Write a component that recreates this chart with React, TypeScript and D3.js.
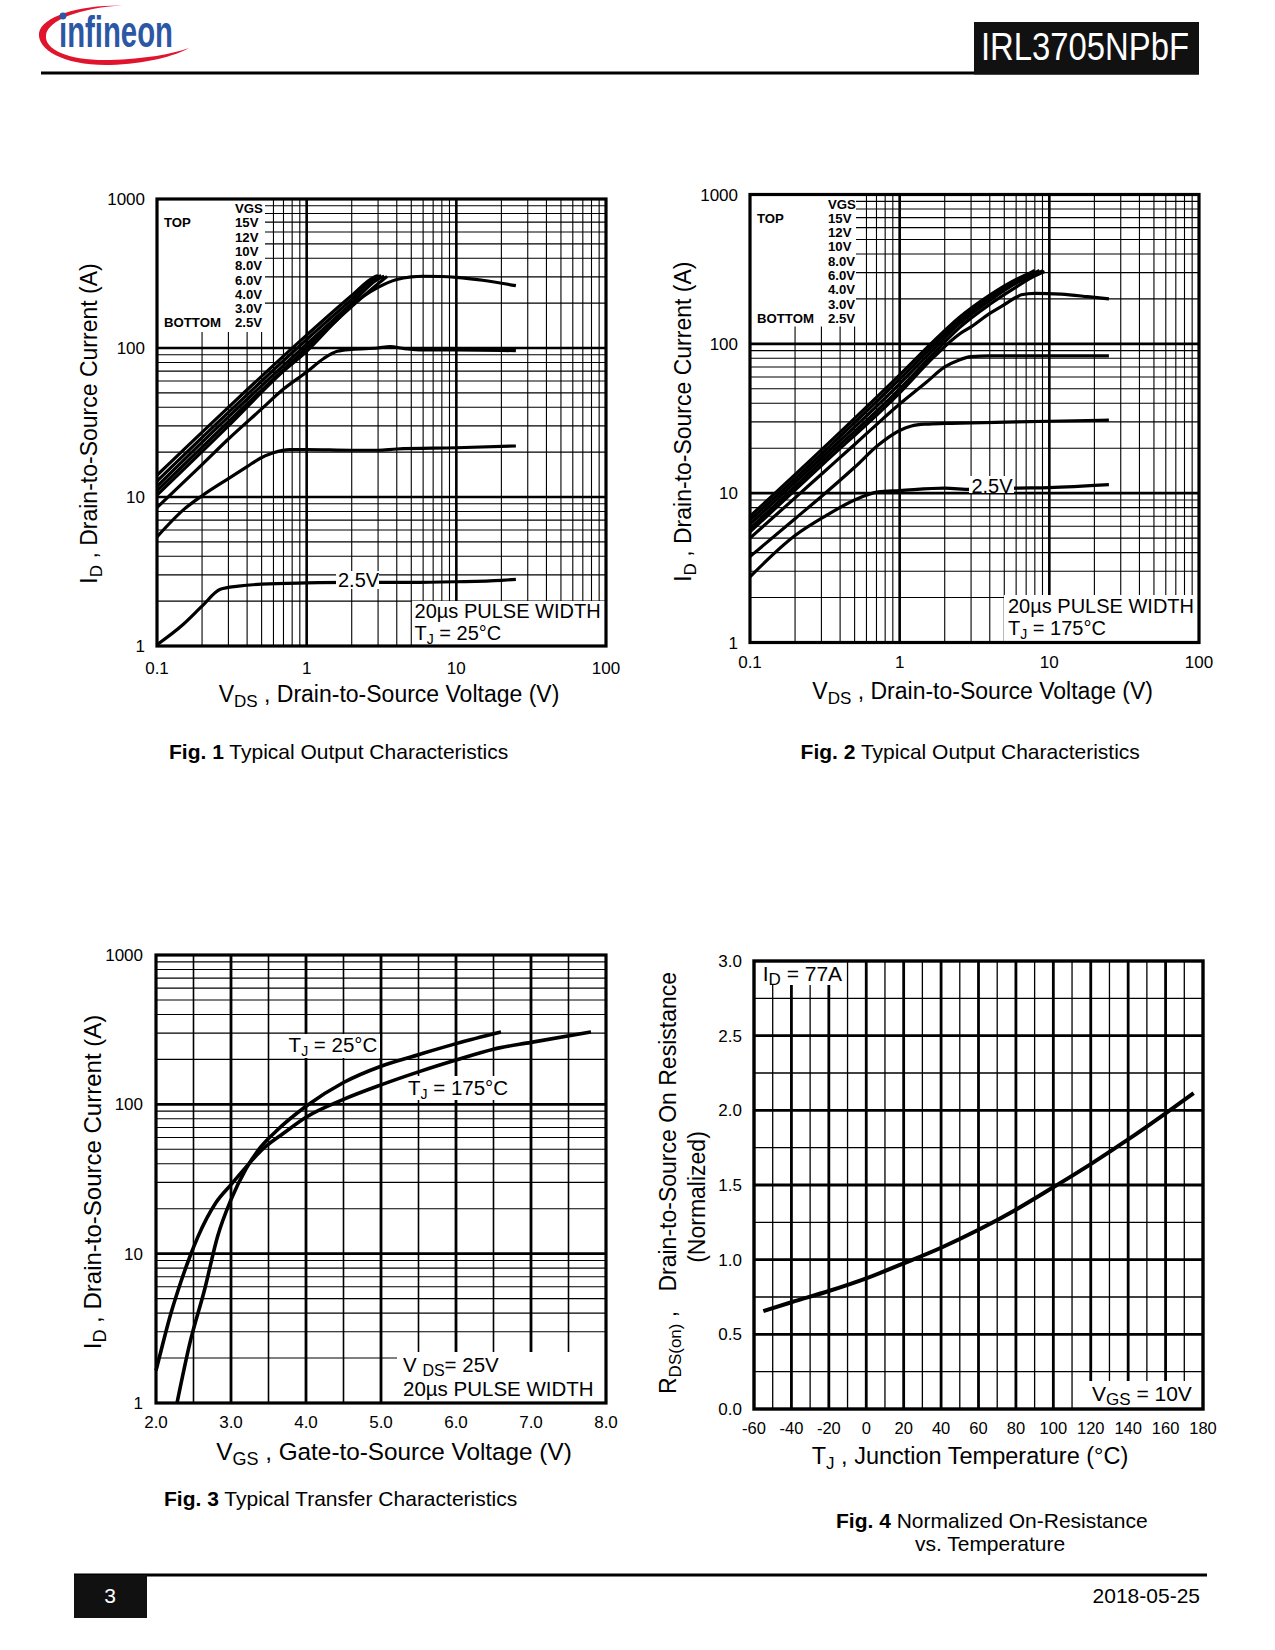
import React from "react";
import * as d3 from "d3";

type Pt = [number, number];
const FONT = "'Liberation Sans', Arial, Helvetica, sans-serif";

// ---------- Fig. 1 : Typical Output Characteristics, TJ = 25 °C  (VDS [V], ID [A]) ----------
const fig1Vgs15V: Pt[] = [[0.1, 14], [0.3, 40], [1, 122], [2, 225], [2.8, 298], [3.0, 306]];
const fig1Vgs12V: Pt[] = [[0.1, 12.8], [0.3, 37], [1, 114], [2, 212], [2.9, 296], [3.15, 305]];
const fig1Vgs10V: Pt[] = [[0.1, 11.8], [0.3, 34.5], [1, 106], [2, 200], [3, 290], [3.3, 303]];
const fig1Vgs8V: Pt[] = [[0.1, 11], [0.3, 32], [1, 100], [2, 190], [3, 270], [3.45, 302]];
const fig1Vgs6V: Pt[] = [[0.1, 10.3], [0.3, 30], [0.7, 70], [1, 95], [1.5, 145], [1.95, 189], [3, 255], [4, 288], [5, 300], [6, 303], [8, 302], [10, 298], [15, 285], [25, 262]];
const fig1Vgs4V: Pt[] = [[0.1, 8.5], [0.2, 16.5], [0.3, 24.5], [0.5, 39], [0.7, 53], [1, 69], [1.3, 85], [1.6, 95], [2, 98], [3, 100], [3.6, 102], [4.5, 99], [6, 97], [10, 97], [25, 96]];
const fig1Vgs3V: Pt[] = [[0.1, 5.4], [0.15, 8.2], [0.2, 10.2], [0.3, 13.3], [0.4, 16], [0.49, 18.2], [0.6, 19.8], [0.77, 20.8], [1, 20.8], [2, 20.6], [3, 20.6], [4, 21], [10, 21.4], [25, 22]];
const fig1Vgs2V5: Pt[] = [[0.1, 1.02], [0.15, 1.4], [0.2, 1.85], [0.265, 2.4], [0.35, 2.52], [0.5, 2.6], [1, 2.65], [2, 2.67], [5, 2.67], [10, 2.7], [20, 2.76], [25, 2.8]];
const fig1Series = [fig1Vgs15V, fig1Vgs12V, fig1Vgs10V, fig1Vgs8V, fig1Vgs6V, fig1Vgs4V, fig1Vgs3V, fig1Vgs2V5];

// ---------- Fig. 2 : Typical Output Characteristics, TJ = 175 °C ----------
const fig2Vgs15V: Pt[] = [[0.1, 7.0], [0.3, 19.5], [1, 62], [1.7, 105], [2.5, 150], [4, 212], [6, 270], [7.5, 300], [8, 310]];
const fig2Vgs12V: Pt[] = [[0.1, 6.6], [0.3, 18.3], [1, 58], [1.7, 99], [2.5, 143], [4, 203], [6, 262], [8, 300], [8.6, 310]];
const fig2Vgs10V: Pt[] = [[0.1, 6.2], [0.3, 17.2], [1, 54], [1.7, 93], [2.5, 136], [4, 195], [6, 255], [8.5, 300], [9.0, 308]];
const fig2Vgs8V: Pt[] = [[0.1, 5.8], [0.3, 16.2], [1, 50], [1.7, 87], [2.5, 128], [4, 184], [6, 240], [8, 285], [9.3, 305]];
const fig2Vgs6V: Pt[] = [[0.1, 5.5], [0.3, 15.3], [1, 47], [1.7, 82], [2.5, 116], [3, 130], [4, 160], [5, 183], [6, 205], [6.5, 213], [8, 218], [12, 215], [18, 207], [25, 200]];
const fig2Vgs4V: Pt[] = [[0.1, 5.0], [0.2, 9.3], [0.3, 13.4], [0.5, 21.2], [0.7, 28.8], [1, 39.5], [1.5, 55], [2, 70], [2.5, 78], [3, 82], [4, 83], [10, 83], [25, 83]];
const fig2Vgs3V: Pt[] = [[0.1, 3.76], [0.2, 6.75], [0.3, 9.5], [0.5, 14.9], [0.72, 21], [1, 26.3], [1.2, 28.2], [1.5, 29], [2, 29.3], [3, 29.5], [6, 30], [10, 30.3], [25, 30.8]];
const fig2Vgs2V5: Pt[] = [[0.1, 2.75], [0.2, 5.2], [0.317, 7], [0.5, 9], [0.72, 10.2], [1, 10.4], [2, 10.8], [3, 10.6], [6, 10.8], [10, 10.9], [25, 11.4]];
const fig2Series = [fig2Vgs15V, fig2Vgs12V, fig2Vgs10V, fig2Vgs8V, fig2Vgs6V, fig2Vgs4V, fig2Vgs3V, fig2Vgs2V5];

const vgsLegend = ["15V", "12V", "10V", "8.0V", "6.0V", "4.0V", "3.0V", "2.5V"];

// ---------- Fig. 3 : Typical Transfer Characteristics (VGS [V], ID [A]) ----------
const fig3Vgs25C = [2.28, 2.45, 2.65, 2.82, 3.0, 3.2, 3.4, 3.6, 4.0, 4.5, 5.0, 5.5, 6.0, 6.6];
const fig3Id25C = [1, 2.5, 5.8, 13, 23, 37, 52, 66, 97, 140, 180, 215, 255, 305];
const fig3Vgs175C = [2.0, 2.1, 2.2, 2.3, 2.45, 2.56, 2.8, 3.0, 3.2, 3.4, 3.7, 4.0, 4.5, 5.0, 5.5, 6.0, 6.5, 7.0, 7.8];
const fig3Id175C = [1.65, 2.6, 4, 5.8, 9.5, 13, 22, 29, 38, 49, 64, 82, 108, 135, 165, 198, 234, 260, 305];

// ---------- Fig. 4 : Normalized On-Resistance vs. Temperature ----------
const fig4Temp = [-55, -40, -20, 0, 20, 40, 60, 80, 100, 120, 140, 160, 175];
const fig4Rds = [0.655, 0.715, 0.79, 0.875, 0.975, 1.08, 1.2, 1.335, 1.485, 1.64, 1.805, 1.98, 2.115];

// ---------- tick labels ----------
const vdsTicks = [0.1, 1, 10, 100];
const vdsTickLabels = ["0.1", "1", "10", "100"];
const idTicks = [1, 10, 100, 1000];
const idTickLabels = ["1", "10", "100", "1000"];
const vgsTicks = [2, 3, 4, 5, 6, 7, 8];
const vgsTickLabels = ["2.0", "3.0", "4.0", "5.0", "6.0", "7.0", "8.0"];
const tempTicks = [-60, -40, -20, 0, 20, 40, 60, 80, 100, 120, 140, 160, 180];
const rdsTicks = [0, 0.5, 1, 1.5, 2, 2.5, 3];
const rdsTickLabels = ["0.0", "0.5", "1.0", "1.5", "2.0", "2.5", "3.0"];

type Box = { x: number; y: number; w: number; h: number };

const TICK_FS = 17;
const TITLE_FS = 23;
const CAP_FS = 21;

const logGrid = (lo: number, hi: number) => {
  const out: { v: number; major: boolean }[] = [];
  for (let e = Math.round(Math.log10(lo)); e < Math.round(Math.log10(hi)); e++) {
    const d = Math.pow(10, e);
    for (let k = 1; k < 10; k++) {
      const v = d * k;
      if (v > lo * 1.001 && v < hi * 0.999) out.push({ v, major: k === 1 });
    }
  }
  return out;
};

const Mask = ({ b }: { b: Box }) => <rect x={b.x} y={b.y} width={b.w} height={b.h} fill="#fff" />;

type OutProps = {
  g: Box;
  series: Pt[][];
  fig: string;
  temp: string;
  legendMask: Box;
  pulseMask: Box;
  pulseX: number;
  pulseY: number;
  lbl: { x: number; y: number; bg: Box };
  yLblX: number;
  xLblY: number;
  xTitle: { x: number; y: number };
  yTitle: { x: number; y: number };
  caption: { x: number; y: number };
};

const OutputPanel = (p: OutProps) => {
  const { g } = p;
  const x = d3.scaleLog().domain([0.1, 100]).range([g.x, g.x + g.w]);
  const y = d3.scaleLog().domain([1, 1000]).range([g.y + g.h, g.y]);
  const line = d3.line<Pt>().x((d) => x(d[0])).y((d) => y(d[1])).curve(d3.curveMonotoneX);
  const xg = logGrid(0.1, 100);
  const yg = logGrid(1, 1000);
  return (
    <g>
      {xg.map((t, i) => (
        <line key={"vx" + i} x1={x(t.v)} x2={x(t.v)} y1={g.y} y2={g.y + g.h} stroke="#000" strokeWidth={t.major ? 2.6 : 1.1} />
      ))}
      {yg.map((t, i) => (
        <line key={"hy" + i} y1={y(t.v)} y2={y(t.v)} x1={g.x} x2={g.x + g.w} stroke="#000" strokeWidth={t.major ? 2.6 : 1.1} />
      ))}
      <Mask b={p.legendMask} />
      <Mask b={p.pulseMask} />
      {p.series.map((s, i) => (
        <path key={"c" + i} d={line(s) || ""} fill="none" stroke="#000" strokeWidth={3.2} strokeLinejoin="round" />
      ))}
      <Mask b={p.lbl.bg} />
      <rect x={g.x} y={g.y} width={g.w} height={g.h} fill="none" stroke="#000" strokeWidth={3.2} />
      {/* legend */}
      <g fontWeight="bold" fontSize={13.2}>
        <text x={g.x + 78} y={g.y + 14}>VGS</text>
        <text x={g.x + 7} y={g.y + 14 + 14.3}>TOP</text>
        <text x={g.x + 7} y={g.y + 14 + 14.3 * 8}>BOTTOM</text>
        {vgsLegend.map((l, i) => (
          <text key={l} x={g.x + 78} y={g.y + 14 + 14.3 * (i + 1)}>{l}</text>
        ))}
      </g>
      <text x={p.lbl.x} y={p.lbl.y} fontSize={20}>2.5V</text>
      <text x={p.pulseX} y={p.pulseY} fontSize={20}>20µs PULSE WIDTH</text>
      <text x={p.pulseX} y={p.pulseY + 22} fontSize={20}>
        T<tspan fontSize={14} dy={4}>J</tspan><tspan dy={-4}> = {p.temp}</tspan>
      </text>
      {/* tick labels */}
      {idTicks.map((t, i) => (
        <text key={"yl" + i} x={p.yLblX} y={y(t) + 6} fontSize={TICK_FS} textAnchor="end">{idTickLabels[i]}</text>
      ))}
      {vdsTicks.map((t, i) => (
        <text key={"xl" + i} x={x(t)} y={p.xLblY} fontSize={TICK_FS} textAnchor="middle">{vdsTickLabels[i]}</text>
      ))}
      <text x={p.xTitle.x} y={p.xTitle.y} fontSize={TITLE_FS} textAnchor="middle">
        V<tspan fontSize={17} dy={5}>DS</tspan><tspan dy={-5}> , Drain-to-Source Voltage (V)</tspan>
      </text>
      <text transform={`translate(${p.yTitle.x},${p.yTitle.y}) rotate(-90)`} fontSize={TITLE_FS} textAnchor="middle">
        I<tspan fontSize={17} dy={5}>D</tspan><tspan dy={-5}> , Drain-to-Source Current (A)</tspan>
      </text>
      <text x={p.caption.x} y={p.caption.y} fontSize={CAP_FS}>
        <tspan fontWeight="bold">{p.fig}</tspan> Typical Output Characteristics
      </text>
    </g>
  );
};

const TransferPanel = ({ g }: { g: Box }) => {
  const x = d3.scaleLinear().domain([2, 8]).range([g.x, g.x + g.w]);
  const y = d3.scaleLog().domain([1, 1000]).range([g.y + g.h, g.y]);
  const line = d3.line<[number, number]>().x((d) => x(d[0])).y((d) => y(d[1])).curve(d3.curveMonotoneX);
  const s25: [number, number][] = fig3Vgs25C.map((v, i) => [v, fig3Id25C[i]]);
  const s175: [number, number][] = fig3Vgs175C.map((v, i) => [v, fig3Id175C[i]]);
  const yg = logGrid(1, 1000);
  const xg = d3.range(2.5, 8, 0.5);
  return (
    <g>
      {xg.map((v, i) => (
        <line key={"vx" + i} x1={x(v)} x2={x(v)} y1={g.y} y2={g.y + g.h} stroke="#000" strokeWidth={Number.isInteger(v) ? 2.8 : 1.6} />
      ))}
      {yg.map((t, i) => (
        <line key={"hy" + i} y1={y(t.v)} y2={y(t.v)} x1={g.x} x2={g.x + g.w} stroke="#000" strokeWidth={t.major ? 2.8 : 1.1} />
      ))}
      <Mask b={{ x: 397, y: 1352, w: 208, h: 50 }} />
      <Mask b={{ x: 286, y: 1034, w: 94, h: 24 }} />
      <Mask b={{ x: 405, y: 1076, w: 103, h: 24 }} />
      <path d={line(s25) || ""} fill="none" stroke="#000" strokeWidth={3.6} strokeLinejoin="round" />
      <path d={line(s175) || ""} fill="none" stroke="#000" strokeWidth={3.6} strokeLinejoin="round" />
      <rect x={g.x} y={g.y} width={g.w} height={g.h} fill="none" stroke="#000" strokeWidth={3.2} />
      <text x={288.6} y={1052} fontSize={20.5}>
        T<tspan fontSize={14} dy={4}>J</tspan><tspan dy={-4}> = 25°C</tspan>
      </text>
      <text x={408} y={1095} fontSize={20.5}>
        T<tspan fontSize={14} dy={4}>J</tspan><tspan dy={-4}> = 175°C</tspan>
      </text>
      <text x={403} y={1372} fontSize={20.5}>
        V <tspan fontSize={16} dy={4}>DS</tspan><tspan dy={-4}>= 25V</tspan>
      </text>
      <text x={403} y={1395.5} fontSize={20.5}>20µs PULSE WIDTH</text>
      {idTicks.map((t, i) => (
        <text key={"yl" + i} x={g.x - 13} y={y(t) + 6} fontSize={TICK_FS} textAnchor="end">{idTickLabels[i]}</text>
      ))}
      {vgsTicks.map((t, i) => (
        <text key={"xl" + i} x={x(t)} y={1428} fontSize={TICK_FS} textAnchor="middle">{vgsTickLabels[i]}</text>
      ))}
      <text x={394} y={1460} fontSize={24.3} textAnchor="middle">
        V<tspan fontSize={18} dy={5}>GS</tspan><tspan dy={-5}> , Gate-to-Source Voltage (V)</tspan>
      </text>
      <text transform={`translate(101,1182) rotate(-90)`} fontSize={24} textAnchor="middle">
        I<tspan fontSize={18} dy={5}>D</tspan><tspan dy={-5}> , Drain-to-Source Current (A)</tspan>
      </text>
      <text x={164} y={1505.5} fontSize={CAP_FS}>
        <tspan fontWeight="bold">Fig. 3</tspan> Typical Transfer Characteristics
      </text>
    </g>
  );
};

const RdsPanel = ({ g }: { g: Box }) => {
  const x = d3.scaleLinear().domain([-60, 180]).range([g.x, g.x + g.w]);
  const y = d3.scaleLinear().domain([0, 3]).range([g.y + g.h, g.y]);
  const pts: [number, number][] = fig4Temp.map((t, i) => [t, fig4Rds[i]]);
  const line = d3.line<[number, number]>().x((d) => x(d[0])).y((d) => y(d[1])).curve(d3.curveMonotoneX);
  const xg = d3.range(-50, 180, 10);
  const yg = d3.range(0.25, 3, 0.25);
  return (
    <g>
      {xg.map((v, i) => (
        <line key={"vx" + i} x1={x(v)} x2={x(v)} y1={g.y} y2={g.y + g.h} stroke="#000" strokeWidth={v % 20 === 0 ? 2.8 : 1.3} />
      ))}
      {yg.map((v, i) => (
        <line key={"hy" + i} y1={y(v)} y2={y(v)} x1={g.x} x2={g.x + g.w} stroke="#000" strokeWidth={Number.isInteger(v * 2) ? 2.8 : 1.3} />
      ))}
      <Mask b={{ x: g.x, y: g.y, w: 90, h: 24 }} />
      <Mask b={{ x: 1086, y: 1381, w: g.x + g.w - 1086, h: g.y + g.h - 1381 }} />
      <path d={line(pts) || ""} fill="none" stroke="#000" strokeWidth={4} strokeLinejoin="round" />
      <rect x={g.x} y={g.y} width={g.w} height={g.h} fill="none" stroke="#000" strokeWidth={3.4} />
      <text x={762.7} y={980.7} fontSize={21}>
        I<tspan fontSize={17} dy={4}>D</tspan><tspan dy={-4}> = 77A</tspan>
      </text>
      <text x={1092} y={1400.7} fontSize={21}>
        V<tspan fontSize={17} dy={4}>GS</tspan><tspan dy={-4}> = 10V</tspan>
      </text>
      {rdsTicks.map((t, i) => (
        <text key={"yl" + i} x={g.x - 12} y={y(t) + 6} fontSize={TICK_FS} textAnchor="end">{rdsTickLabels[i]}</text>
      ))}
      {tempTicks.map((t, i) => (
        <text key={"xl" + i} x={x(t)} y={1434} fontSize={16.5} textAnchor="middle">{String(t)}</text>
      ))}
      <text x={970} y={1464} fontSize={23.5} textAnchor="middle">
        T<tspan fontSize={17} dy={5}>J</tspan><tspan dy={-5}> , Junction Temperature (°C)</tspan>
      </text>
      <text transform={`translate(676,1183) rotate(-90)`} fontSize={TITLE_FS} textAnchor="middle" style={{ whiteSpace: "pre" }}>
        R<tspan fontSize={17} dy={5}>DS(on)</tspan><tspan dy={-5}>{" ,   Drain-to-Source On Resistance"}</tspan>
      </text>
      <text transform={`translate(705,1197) rotate(-90)`} fontSize={TITLE_FS} textAnchor="middle">(Normalized)</text>
      <text x={836} y={1528} fontSize={CAP_FS}>
        <tspan fontWeight="bold">Fig. 4</tspan> Normalized On-Resistance
      </text>
      <text x={990} y={1551} fontSize={CAP_FS} textAnchor="middle">vs. Temperature</text>
    </g>
  );
};

const Header = () => (
  <g>
    <path
      d="M 122,5.5 C 80,5 42,16 39,33 C 37,50 65,66 110,65 C 145,64 175,56 189,48 C 172,54 145,59 110,60 C 70,61 44,50 46,35 C 48,20 80,8 122,5.5 Z"
      fill="#e0142c"
    />
    <circle cx={63} cy={16} r={3.4} fill="#2b57a5" />
    <text x={59} y={47} fontSize={44} fontWeight="bold" fill="#2b57a5" textLength={114} lengthAdjust="spacingAndGlyphs">ınfineon</text>
    <line x1={41} x2={1199} y1={73} y2={73} stroke="#000" strokeWidth={3} />
    <rect x={974} y={22} width={225} height={52.5} fill="#111" />
    <text x={981} y={60} fontSize={39} fill="#fff" textLength={208} lengthAdjust="spacingAndGlyphs">IRL3705NPbF</text>
  </g>
);

const Footer = () => (
  <g>
    <line x1={74} x2={1207} y1={1575} y2={1575} stroke="#000" strokeWidth={3} />
    <rect x={74} y={1575} width={73} height={43} fill="#111" />
    <text x={110} y={1603} fontSize={CAP_FS} fill="#fff" textAnchor="middle">3</text>
    <text x={1200} y={1603} fontSize={CAP_FS} textAnchor="end">2018-05-25</text>
  </g>
);

export default function App() {
  return (
    <svg
      width={1275}
      height={1650}
      viewBox="0 0 1275 1650"
      style={{ position: "absolute", left: 0, top: 0, background: "#fff" }}
      fontFamily={FONT}
    >
      <rect x={0} y={0} width={1275} height={1650} fill="#fff" />
      <Header />
      <OutputPanel
        g={{ x: 157, y: 199, w: 449, h: 447 }}
        series={fig1Series}
        fig="Fig. 1"
        temp="25°C"
        legendMask={{ x: 157, y: 199, w: 108, h: 133 }}
        pulseMask={{ x: 412, y: 601, w: 194, h: 45 }}
        pulseX={414.6}
        pulseY={618}
        lbl={{ x: 338, y: 587, bg: { x: 336, y: 571, w: 43, h: 18 } }}
        yLblX={145}
        xLblY={674}
        xTitle={{ x: 389, y: 702 }}
        yTitle={{ x: 97, y: 423.5 }}
        caption={{ x: 169, y: 758.5 }}
      />
      <OutputPanel
        g={{ x: 750, y: 194.5, w: 449, h: 448 }}
        series={fig2Series}
        fig="Fig. 2"
        temp="175°C"
        legendMask={{ x: 750, y: 194.5, w: 106, h: 132 }}
        pulseMask={{ x: 1004, y: 595, w: 194, h: 47 }}
        pulseX={1008}
        pulseY={613}
        lbl={{ x: 971.4, y: 493, bg: { x: 969, y: 476, w: 45, h: 17 } }}
        yLblX={738}
        xLblY={668}
        xTitle={{ x: 982.7, y: 698.5 }}
        yTitle={{ x: 691, y: 421.7 }}
        caption={{ x: 800.6, y: 758.5 }}
      />
      <TransferPanel g={{ x: 156, y: 955, w: 450, h: 448 }} />
      <RdsPanel g={{ x: 754, y: 961, w: 449, h: 448 }} />
      <Footer />
    </svg>
  );
}
